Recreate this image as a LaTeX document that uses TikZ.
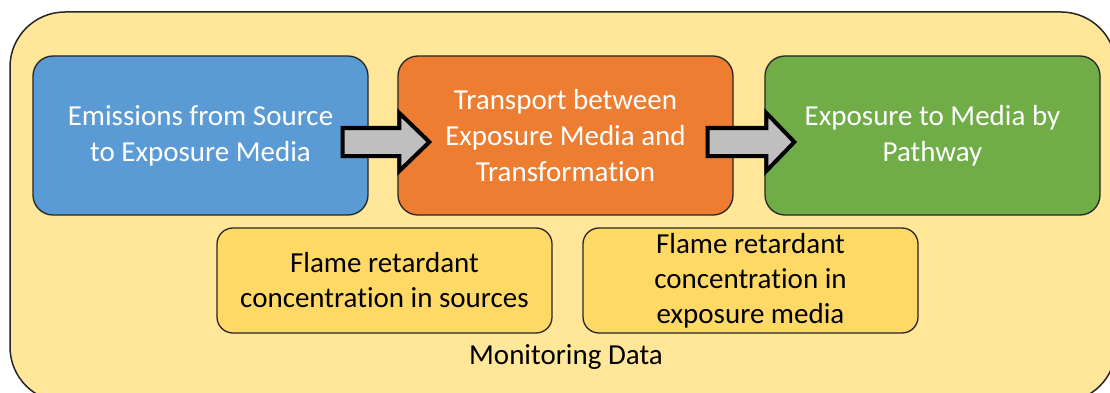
\documentclass[tikz,border=0pt]{standalone}
\usepackage{fontspec}
\setmainfont{Carlito}[Ligatures={NoCommon}]
\usetikzlibrary{calc}
\definecolor{outerY}{HTML}{FFE699}
\definecolor{innerY}{HTML}{FFD966}
\definecolor{boxB}{HTML}{5B9BD5}
\definecolor{boxO}{HTML}{ED7D31}
\definecolor{boxG}{HTML}{70AD47}
\definecolor{arrG}{HTML}{BFBFBF}
\tikzset{
  mainbox/.style={draw=black!85, line width=1.3pt, rounded corners=20pt, minimum width=335pt, minimum height=159pt, inner sep=0pt, align=center, text=white, font=\fontsize{29}{36}\selectfont},
  monbox/.style={draw=black!85, line width=1.3pt, fill=innerY, rounded corners=16pt, minimum width=335pt, minimum height=105pt, inner sep=0pt, align=center, text=black, font=\fontsize{29}{35}\selectfont},
  blockarrow/.style={draw=black, line width=4pt, fill=arrG, line join=miter},
}
\begin{document}
\begin{tikzpicture}[x=1pt,y=-1pt]
\useasboundingbox (0,0) rectangle (1110,393);
\clip (0,0) rectangle (1110,393);
\node[draw=black!85, line width=1.5pt, fill=outerY, rounded corners=55pt, minimum width=1106pt, minimum height=390pt, inner sep=0pt] (outer) at (563,207) {};
\node[mainbox, fill=boxB] (blue) at (200.5,135.5) {Emissions from Source\\to Exposure Media};
\node[mainbox, fill=boxO] (orange) at (565.5,135.5) {Transport between\\Exposure Media and\\Transformation};
\node[mainbox, fill=boxG] (green) at (932.5,135.5) {Exposure to Media by\\Pathway};
\node[monbox] (src) at (384.5,280.5) {Flame retardant\\concentration in sources};
\node[monbox] (med) at (750.5,280.5) {Flame retardant\\concentration in\\exposure media};
\node[text=black, font=\fontsize{29}{33}\selectfont, inner sep=0pt] (mon) at (566,357) {Monitoring Data};
\draw[blockarrow] ($(blue.east)+(-26,-7.5)$) -- ($(orange.west)+(2,-7.5)$) -- ($(orange.west)+(2,-22.5)$) -- ($(orange.west)+(32,6.5)$) -- ($(orange.west)+(2,35.5)$) -- ($(orange.west)+(2,20.5)$) -- ($(blue.east)+(-26,20.5)$) -- cycle;
\draw[blockarrow] ($(orange.east)+(-26,-7.5)$) -- ($(green.west)+(2,-7.5)$) -- ($(green.west)+(2,-22.5)$) -- ($(green.west)+(30,6.5)$) -- ($(green.west)+(2,35.5)$) -- ($(green.west)+(2,20.5)$) -- ($(orange.east)+(-26,20.5)$) -- cycle;
\end{tikzpicture}
\end{document}
